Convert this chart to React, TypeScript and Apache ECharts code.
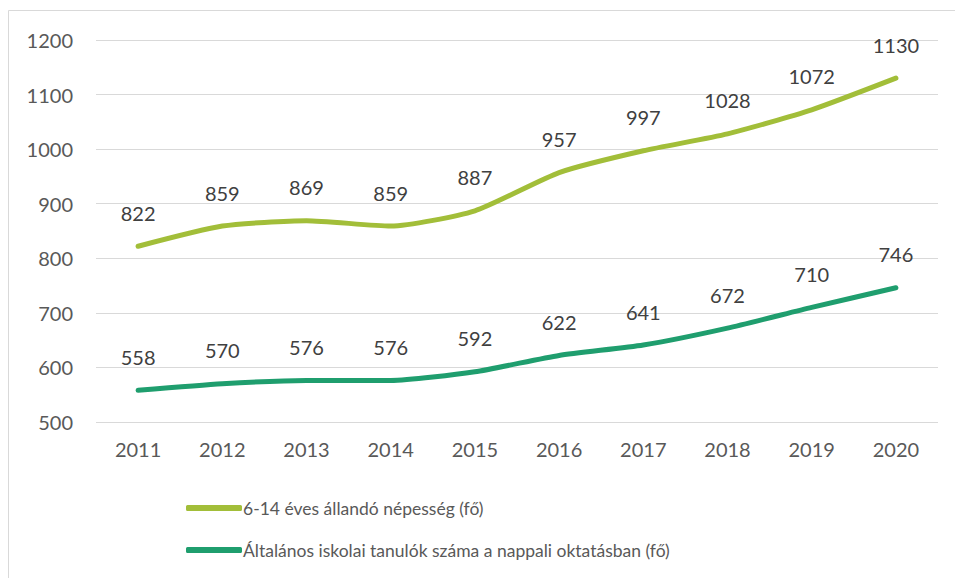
import React, { useEffect, useRef } from "react";
import * as echarts from "echarts";

const years = ["2011", "2012", "2013", "2014", "2015", "2016", "2017", "2018", "2019", "2020"];
const population = [822, 859, 869, 859, 887, 957, 997, 1028, 1072, 1130];
const students = [558, 570, 576, 576, 592, 622, 641, 672, 710, 746];
const seriesNames = [
  "6-14 éves állandó népesség (fő)",
  "Általános iskolai tanulók száma a nappali oktatásban (fő)",
];

const FONT = "Lato, 'Open Sans', sans-serif";

export default function App() {
  const ref = useRef<HTMLDivElement>(null);
  useEffect(() => {
    const chart = echarts.init(ref.current!, null, { renderer: "svg" });
    const label = {
      show: true,
      position: "top",
      distance: 23,
      color: "#404040",
      fontSize: 20,
      fontFamily: FONT,
      formatter: (p: any) => String(p.value),
    };
    chart.setOption({
      animation: false,
      backgroundColor: "#fff",
      graphic: [
        {
          type: "rect",
          shape: { x: 8.5, y: 10.5, width: 1000, height: 1000 },
          style: { fill: "none", stroke: "#d9d9d9", lineWidth: 1 },
          silent: true,
        },
      ],
      grid: { left: 96, right: 17, top: 40, bottom: 156, containLabel: false },
      xAxis: {
        type: "category",
        data: years,
        boundaryGap: true,
        axisLine: { show: false },
        axisTick: { show: false },
        axisLabel: { color: "#595959", fontSize: 20, fontFamily: FONT, margin: 17 },
      },
      yAxis: {
        type: "value",
        min: 500,
        max: 1200,
        interval: 100,
        axisLine: { show: false },
        axisTick: { show: false },
        axisLabel: {
          color: "#595959",
          fontSize: 20,
          fontFamily: FONT,
          margin: 23,
          formatter: (v: number) => String(v),
        },
        splitLine: { lineStyle: { color: "#d9d9d9", width: 1 } },
      },
      legend: {
        orient: "vertical",
        left: 181,
        top: 494,
        itemWidth: 56,
        itemHeight: 6,
        itemGap: 24,
        icon: "roundRect",
        textStyle: { color: "#595959", fontSize: 17.5, fontFamily: FONT, padding: [0, 0, 0, -4] },
        data: seriesNames,
      },
      series: [
        {
          name: seriesNames[0],
          type: "line",
          data: population,
          smooth: 0.2,
          symbol: "circle",
          symbolSize: 1,
          showSymbol: true,
          lineStyle: { color: "#A2BE39", width: 5, cap: "round" },
          itemStyle: { color: "#A2BE39" },
          label,
        },
        {
          name: seriesNames[1],
          type: "line",
          data: students,
          smooth: 0.2,
          symbol: "circle",
          symbolSize: 1,
          showSymbol: true,
          lineStyle: { color: "#1F9E6E", width: 5, cap: "round" },
          itemStyle: { color: "#1F9E6E" },
          label,
        },
      ],
    });
    return () => chart.dispose();
  }, []);
  return (
    <div
      ref={ref}
      style={{ position: "absolute", left: 0, top: 0, width: 955, height: 578 }}
    />
  );
}
